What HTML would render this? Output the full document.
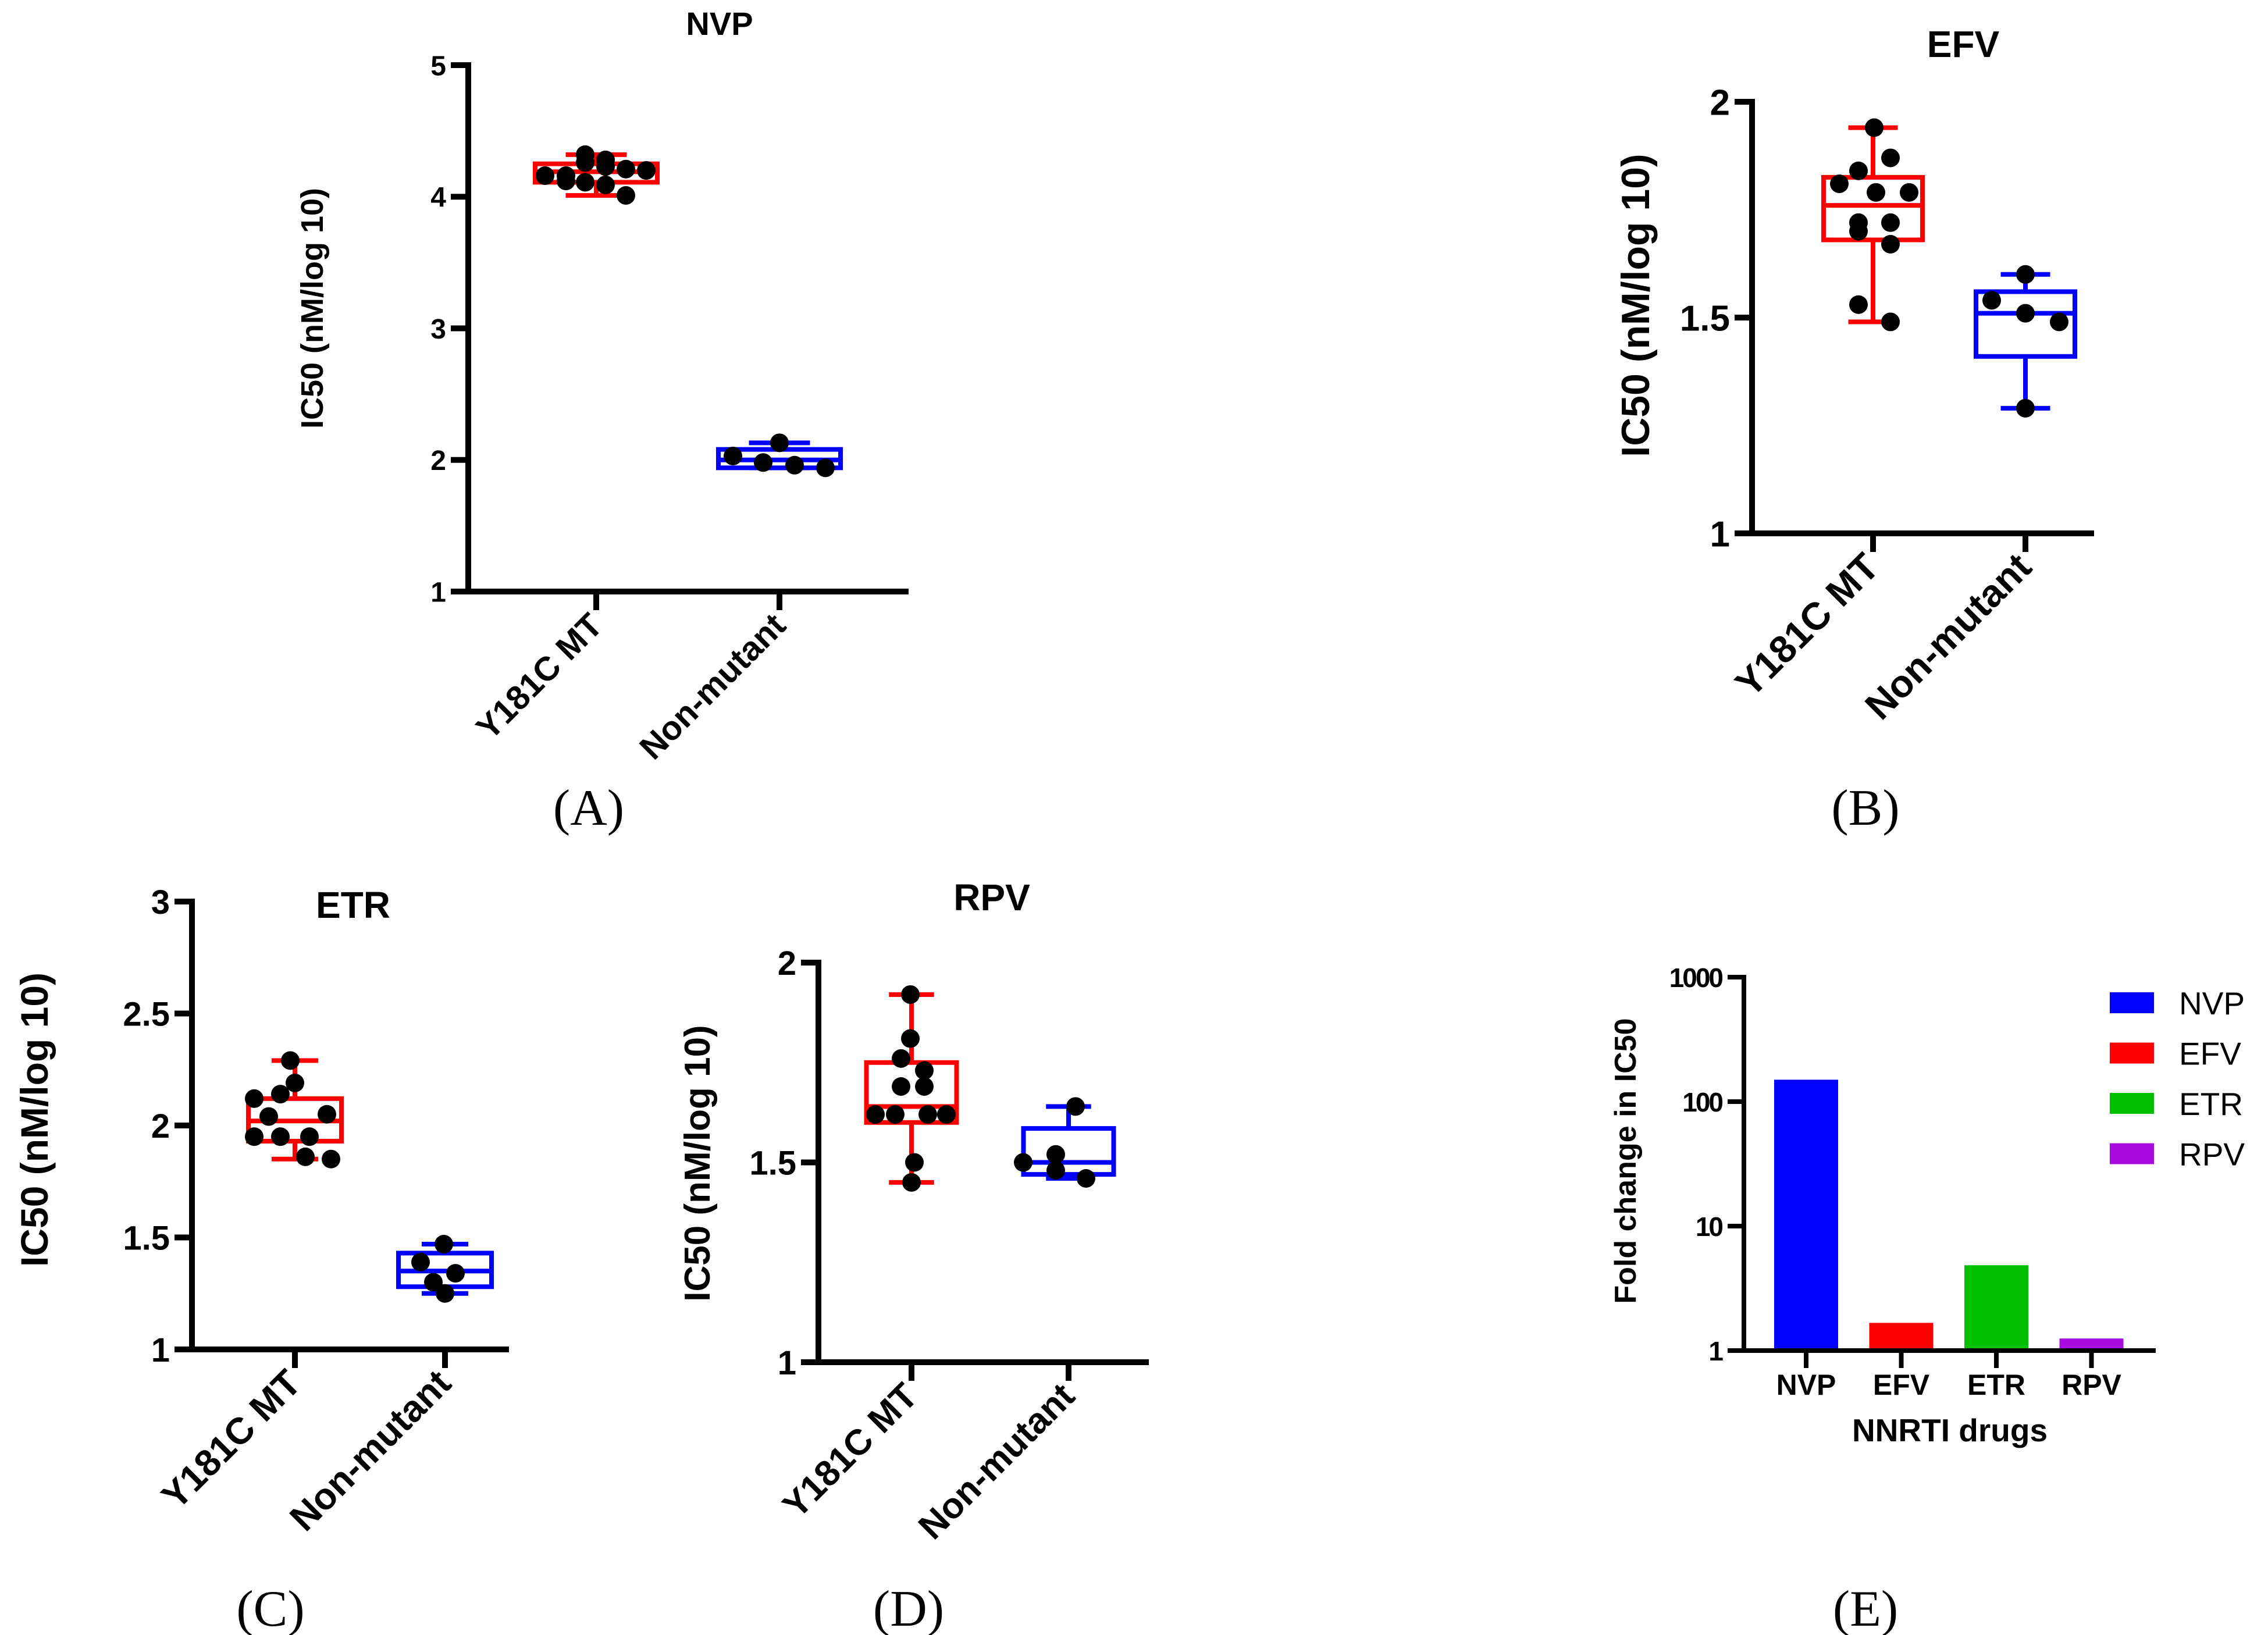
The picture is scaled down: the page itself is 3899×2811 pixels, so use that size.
<!DOCTYPE html>
<html><head><meta charset="utf-8"><style>
html,body{margin:0;padding:0;background:#fff}
svg{display:block}
text{font-family:"Liberation Sans",sans-serif;font-weight:bold;fill:#000}
</style></head><body>
<svg id="fig" width="3899" height="2811" viewBox="0 0 3899 2811" xmlns="http://www.w3.org/2000/svg"></svg>
<script>
// ---- data ----
const boxCategories = ["Y181C MT", "Non-mutant"];
const nvpY181C = [4.16,4.16,4.12,4.32,4.26,4.11,4.28,4.23,4.09,4.21,4.01,4.20];
const nvpNon = [2.03,1.98,2.13,1.96,1.94];
const nvpBoxY181C = [4.01,4.11,4.19,4.25,4.32];
const nvpBoxNon = [1.94,1.94,2.0,2.08,2.13];
const efvY181C = [1.94,1.87,1.81,1.84,1.79,1.79,1.72,1.70,1.72,1.67,1.53,1.49];
const efvNon = [1.54,1.60,1.51,1.49,1.29];
const efvBoxY181C = [1.49,1.68,1.76,1.825,1.94];
const efvBoxNon = [1.29,1.41,1.51,1.56,1.60];
const etrY181C = [2.12,2.14,2.19,2.29,1.95,1.95,1.95,2.04,2.05,1.86,1.85];
const etrNon = [1.47,1.39,1.34,1.30,1.25];
const etrBoxY181C = [1.85,1.93,2.02,2.12,2.29];
const etrBoxNon = [1.25,1.28,1.35,1.43,1.47];
const rpvY181C = [1.92,1.81,1.76,1.73,1.69,1.69,1.62,1.62,1.62,1.62,1.50,1.45];
const rpvNon = [1.64,1.50,1.52,1.48,1.46];
const rpvBoxY181C = [1.45,1.60,1.64,1.75,1.92];
const rpvBoxNon = [1.46,1.47,1.50,1.585,1.64];
const foldDrugs = ["NVP","EFV","ETR","RPV"];
const foldValues = [150, 1.67, 4.85, 1.25];
const foldTicks = [1,10,100,1000];
const foldColors = ["#0000ff","#ff0000","#00c000","#a80be0"];
// jitter (layout offsets, px)
const jA = [[-88,-52,-52,-19,-19,-19,16,16,16,51,51,86],[-80,-28,0,26,79]];
const jB = [[2,30,-58,-25,5,62,-25,-25,30,30,-25,30],[-58,0,0,58,0]];
const jC = [[-70,-25,0,-8,-70,-25,25,-45,55,18,62],[-2,-42,18,-20,0]];
const jD = [[-2,-2,-18,22,-18,22,-62,-28,28,60,5,0],[12,-78,-22,-22,30]];

const svg = document.getElementById('fig');
const NS = "http://www.w3.org/2000/svg";
function el(tag, attrs, parent){
  const e = document.createElementNS(NS, tag);
  for (const k in attrs) e.setAttribute(k, attrs[k]);
  (parent||svg).appendChild(e);
  return e;
}
function txt(s, attrs, parent){ const t = el('text', attrs, parent); t.textContent = s; return t; }

function boxPanel(p){
  const g = el('g', {});
  
  
  const yS = v => p.yBot - (v - p.min) / (p.max - p.min) * (p.yBot - p.yTop);
  const t = txt(p.title, {x:p.titleX, y:p.titleY, 'font-size':p.tfs, 'text-anchor':'middle'}, g);
  
  
  const ya = el('line', {x1:p.x0, y1:yS(p.max)-5, x2:p.x0, y2:p.yBot+5, stroke:'#000','stroke-width':10}, g);
  
  
  const xa = el('line', {x1:p.x0-30, y1:p.yBot, x2:p.xEnd, y2:p.yBot, stroke:'#000','stroke-width':10}, g);
  
  
  p.ticks.forEach((v,i)=>{
    el('line', {x1:p.x0-30, y1:yS(v), x2:p.x0, y2:yS(v), stroke:'#000','stroke-width':10}, g);
    const tl = txt(p.tickLabels[i], {x:p.x0-38, y:yS(v)+p.fs*0.36, 'font-size':p.fs, 'text-anchor':'end'}, g);
    
    
  });
  const yl = txt("IC50 (nM/log 10)", {x:0, y:0, 'font-size':p.yfs, 'text-anchor':'middle', transform:`translate(${p.ylX},${p.ylY}) rotate(-90)`}, g);
  
  
  const colors = ['#ff0000','#0000ff'];
  boxCategories.forEach((c,ci)=>{
    const cx = p.cats[ci];
    el('line', {x1:cx, y1:p.yBot, x2:cx, y2:p.yBot+32, stroke:'#000','stroke-width':10}, g);
    const xl = txt(c, {x:0, y:0, 'font-size':p.xfs, 'text-anchor':'end', transform:`translate(${cx+14},${p.yBot+62}) rotate(-45)`}, g);
    
    
    const b = p.boxes[ci], w = p.bw, col = colors[ci];
    const bg = el('g', {stroke:col, 'stroke-width':8, fill:'none'}, g);
    
    
    el('line', {x1:cx, y1:yS(b[0]), x2:cx, y2:yS(b[4])}, bg);
    el('line', {x1:cx-w*0.25, y1:yS(b[0]), x2:cx+w*0.25, y2:yS(b[0])}, bg);
    el('line', {x1:cx-w*0.25, y1:yS(b[4]), x2:cx+w*0.25, y2:yS(b[4])}, bg);
    el('rect', {x:cx-w/2, y:yS(b[3]), width:w, height:yS(b[1])-yS(b[3]), fill:'#fff'}, bg);
    el('line', {x1:cx-w/2, y1:yS(b[2]), x2:cx+w/2, y2:yS(b[2])}, bg);
    p.pts[ci].forEach((v,i)=>{
      const d = el('circle', {cx:cx + p.jit[ci][i], cy:yS(v), r:16, fill:'#000'}, g);
      
      
    });
  });
  const pl = txt(p.label, {x:p.labX, y:p.labY, 'font-size':88, 'text-anchor':'middle', style:'font-family:"Liberation Serif",serif;font-weight:normal'}, g);
  
  
}

boxPanel({name:'panel-a-nvp', title:'NVP', titleX:1237, titleY:60, tfs:56, x0:805, xEnd:1562, yTop:112, yBot:1017, min:1, max:5,
  ticks:[1,2,3,4,5], tickLabels:["1","2","3","4","5"], cats:[1025,1340], bw:210, fs:48, xfs:58, yfs:54, ylX:555, ylY:530,
  boxes:[nvpBoxY181C,nvpBoxNon], pts:[nvpY181C,nvpNon], jit:jA, label:'(A)', labX:1012, labY:1418});
boxPanel({name:'panel-b-efv', title:'EFV', titleX:3375, titleY:98, tfs:64, x0:3012, xEnd:3600, yTop:175, yBot:917, min:1, max:2,
  ticks:[1,1.5,2], tickLabels:["1","1.5","2"], cats:[3220,3482], bw:170, fs:62, xfs:66, yfs:68, ylX:2835, ylY:525,
  boxes:[efvBoxY181C,efvBoxNon], pts:[efvY181C,efvNon], jit:jB, label:'(B)', labX:3207, labY:1418});
boxPanel({name:'panel-c-etr', title:'ETR', titleX:607, titleY:1578, tfs:64, x0:330, xEnd:875, yTop:1550, yBot:2320, min:1, max:3,
  ticks:[1,1.5,2,2.5,3], tickLabels:["1","1.5","2","2.5","3"], cats:[507,765], bw:160, fs:58, xfs:64, yfs:66, ylX:82, ylY:1925,
  boxes:[etrBoxY181C,etrBoxNon], pts:[etrY181C,etrNon], jit:jC, label:'(C)', labX:465, labY:2795});
boxPanel({name:'panel-d-rpv', title:'RPV', titleX:1705, titleY:1565, tfs:64, x0:1407, xEnd:1975, yTop:1655, yBot:2342, min:1, max:2,
  ticks:[1,1.5,2], tickLabels:["1","1.5","2"], cats:[1567,1837], bw:155, fs:58, xfs:62, yfs:62, ylX:1220, ylY:2000,
  boxes:[rpvBoxY181C,rpvBoxNon], pts:[rpvY181C,rpvNon], jit:jD, label:'(D)', labX:1562, labY:2795});

// ---- Panel E ----
(function(){
  const g = el('g', {});
  
  
  const x0 = 2998, xEnd = 3706, yTop = 1680, yBot = 2322;
  const yS = v => yBot - Math.log10(v) / 3 * (yBot - yTop);
  const cx0 = 3105, step = 163.5, bw = 110;
  foldValues.forEach((v,i)=>{
    const cx = cx0 + i*step;
    const r = el('rect', {x:cx-bw/2, y:yS(v), width:bw, height:yBot-yS(v), fill:foldColors[i]}, g);
    
    
    el('line', {x1:cx, y1:yBot, x2:cx, y2:yBot+30, stroke:'#000','stroke-width':8}, g);
    const xl = txt(foldDrugs[i], {x:cx, y:yBot+76, 'font-size':50, 'text-anchor':'middle'}, g);
    
    
  });
  const ya = el('line', {x1:x0, y1:yTop-4, x2:x0, y2:yBot+4, stroke:'#000','stroke-width':8}, g);
  
  
  const xa = el('line', {x1:x0-28, y1:yBot, x2:xEnd, y2:yBot, stroke:'#000','stroke-width':8}, g);
  
  
  foldTicks.forEach(v=>{
    el('line', {x1:x0-28, y1:yS(v), x2:x0, y2:yS(v), stroke:'#000','stroke-width':8}, g);
    const tl = txt(String(v), {x:x0-38, y:yS(v)+17, 'font-size':46, 'text-anchor':'end', 'letter-spacing':'-3'}, g);
    
    
  });
  const yl = txt("Fold change in IC50", {x:0, y:0, 'font-size':52, 'text-anchor':'middle', transform:'translate(2812,1996) rotate(-90)'}, g);
  
  
  const xt = txt("NNRTI drugs", {x:3352, y:2478, 'font-size':55, 'text-anchor':'middle'}, g);
  
  
  foldDrugs.forEach((d,i)=>{
    const ly = 1724 + i*86.5;
    const lg = el('g', {}, g);
    
    
    el('rect', {x:3627, y:ly-18, width:76, height:36, fill:foldColors[i]}, lg);
    txt(d, {x:3746, y:ly+20, 'font-size':55, style:'font-weight:normal'}, lg);
  });
  const pl = txt('(E)', {x:3207, y:2795, 'font-size':88, 'text-anchor':'middle', style:'font-family:"Liberation Serif",serif;font-weight:normal'}, g);
  
  
})();
</script>
</body></html>
